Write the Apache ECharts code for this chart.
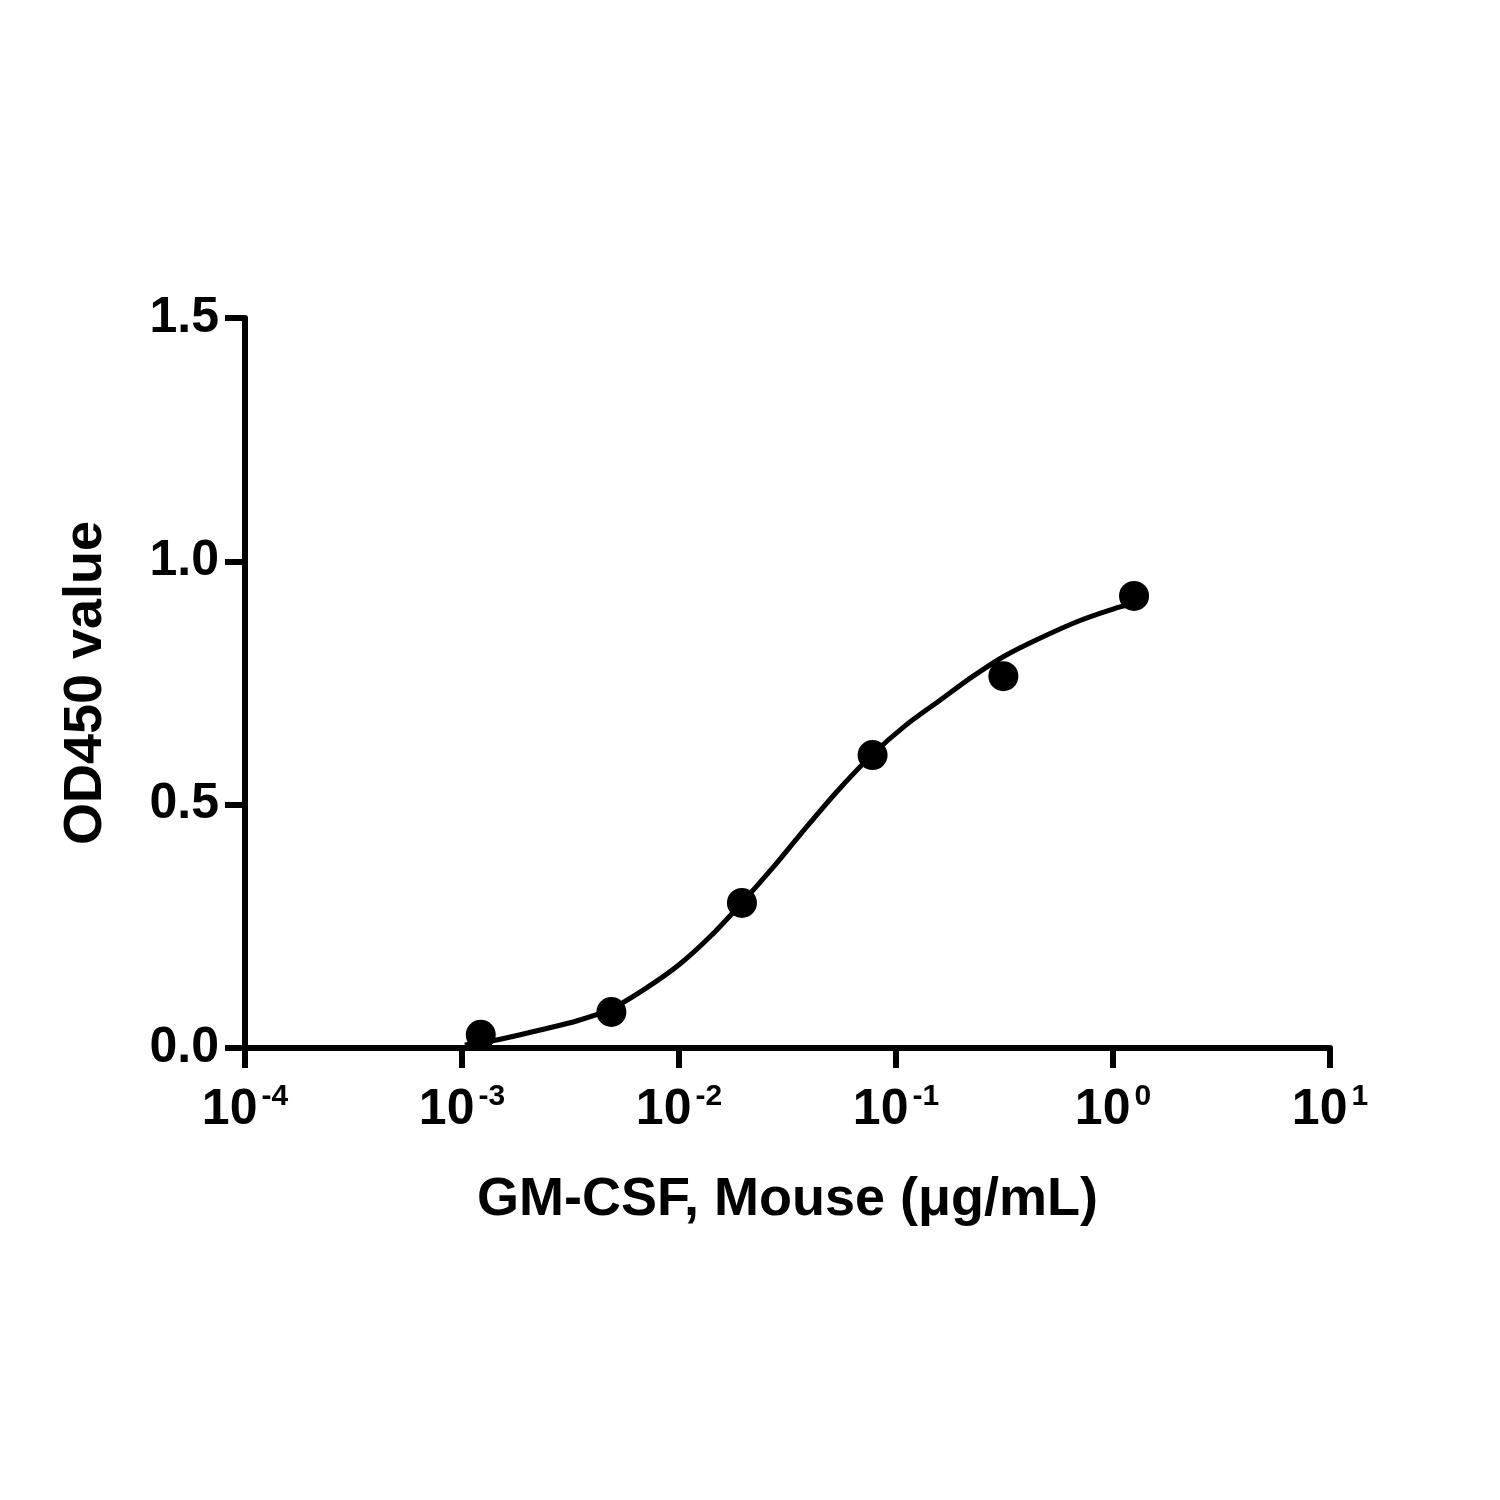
<!DOCTYPE html>
<html><head><meta charset="utf-8">
<script src="https://cdn.jsdelivr.net/npm/echarts@6/dist/echarts.min.js"></script>
<style>html,body{margin:0;background:#fff}#c{width:1500px;height:1500px}</style>
</head><body><div id="c"></div>
<script>
const pointX = [0.00122, 0.00488, 0.0195, 0.078, 0.3125, 1.25];
const pointY = [0.027, 0.074, 0.298, 0.602, 0.764, 0.929];
const curveX = [0.00103, 0.00150, 0.00229, 0.00340, 0.00486, 0.0070, 0.0100, 0.0140, 0.0191, 0.0270, 0.0361, 0.0530, 0.0774, 0.110, 0.160, 0.225, 0.315, 0.45, 0.70, 1.0, 1.236];
const curveY = [0.006, 0.018, 0.037, 0.056, 0.080, 0.122, 0.171, 0.230, 0.294, 0.370, 0.438, 0.525, 0.602, 0.662, 0.715, 0.763, 0.805, 0.840, 0.878, 0.902, 0.913];
const xTickExp = ['-4', '-3', '-2', '-1', '0', '1'];
const yTicks = [0, 0.5, 1.0, 1.5];

const chart = echarts.init(document.getElementById('c'));
const F = 'Liberation Sans';
chart.setOption({
  animation: false,
  grid: {left: 245, right: 170, top: 318, bottom: 452},
  xAxis: {
    type: 'log', logBase: 10, min: 1e-4, max: 10,
    name: 'GM-CSF, Mouse (μg/mL)', nameLocation: 'middle', nameGap: 125,
    nameTextStyle: {fontFamily: F, fontWeight: 'bold', fontSize: 54, color: '#000'},
    axisLine: {lineStyle: {color: '#000', width: 6}},
    axisTick: {length: 20, lineStyle: {color: '#000', width: 6}},
    minorTick: {show: false}, splitLine: {show: false},
    axisLabel: {
      margin: 34,
      formatter: v => { const e = Math.round(Math.log10(v)); return '{b|10}{s|' + e + '}'; },
      rich: {
        b: {fontFamily: F, fontWeight: 'bold', fontSize: 50, color: '#000'},
        s: {fontFamily: F, fontWeight: 'bold', fontSize: 30, color: '#000', verticalAlign: 'top', padding: [0,0,26,4]}
      }
    }
  },
  yAxis: {
    type: 'value', min: 0, max: 1.5, interval: 0.5,
    name: 'OD450 value', nameLocation: 'middle', nameGap: 132,
    nameTextStyle: {fontFamily: F, fontWeight: 'bold', fontSize: 54, color: '#000'},
    axisLine: {show: true, lineStyle: {color: '#000', width: 6}},
    axisTick: {show: true, length: 20, lineStyle: {color: '#000', width: 6}},
    splitLine: {show: false},
    axisLabel: {margin: 26, fontFamily: F, fontWeight: 'bold', fontSize: 50, color: '#000',
      formatter: v => v.toFixed(1)}
  },
  series: [
    {type: 'line', data: curveX.map((x, i) => [x, curveY[i]]), smooth: 0.3, showSymbol: false,
     lineStyle: {color: '#000', width: 5}},
    {type: 'scatter', data: pointX.map((x, i) => [x, pointY[i]]), symbolSize: 30,
     itemStyle: {color: '#000', opacity: 1}}
  ]
});
</script></body></html>
